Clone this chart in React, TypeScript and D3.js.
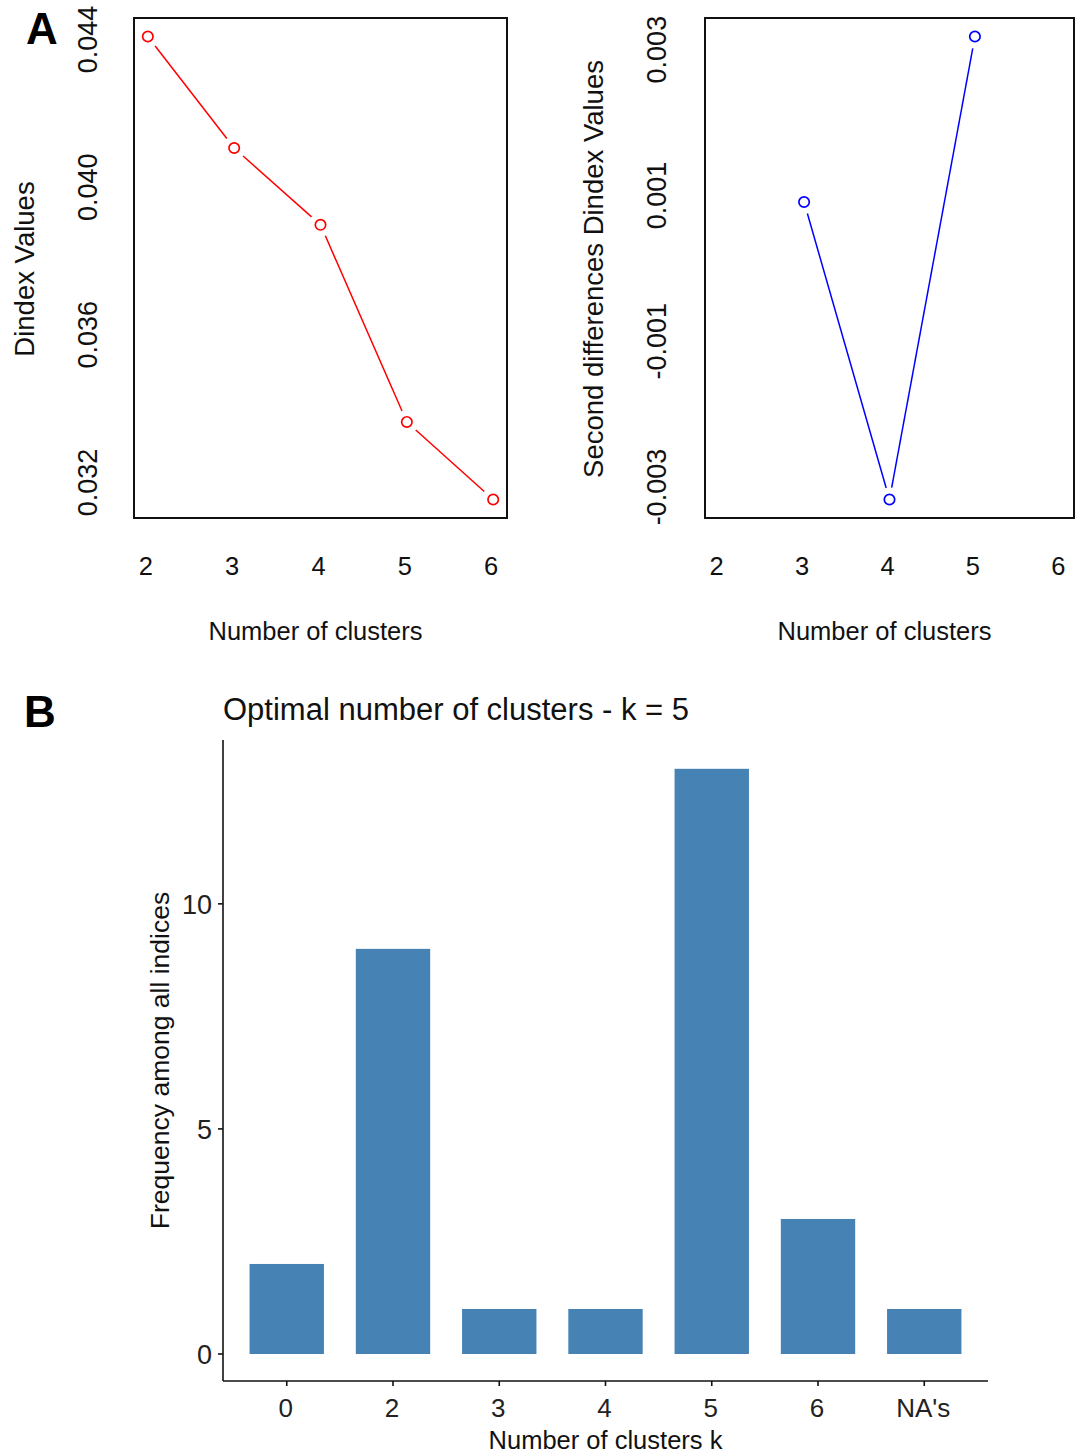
import React from "react";
import * as d3 from "d3";

const clusters = [2, 3, 4, 5, 6];
const dindex = [0.04408, 0.04106, 0.03898, 0.03364, 0.03154];
const secondDiffK = [3, 4, 5];
const secondDiff = [0.00091, -0.00317, 0.00318];
const leftTicks = [0.032, 0.036, 0.04, 0.044];
const rightTicks = [-0.003, -0.001, 0.001, 0.003];

const kCategories = ["0", "2", "3", "4", "5", "6", "NA's"];
const kFrequency = [2, 9, 1, 1, 13, 3, 1];
const freqTicks = [0, 5, 10];

const FONT = "'Liberation Sans', Arial, sans-serif";

function padDomain(vals: number[]): [number, number] {
  const mn = d3.min(vals) as number;
  const mx = d3.max(vals) as number;
  const r = mx - mn;
  return [mn - 0.04 * r, mx + 0.04 * r];
}

function LinePanel(props: {
  left: number; right: number; top: number; bottom: number;
  xs: number[]; ys: number[]; ticks: number[]; color: string;
  yTitle: string; yTitleX: number; yLabX: number; fmt: (v: number) => string;
}) {
  const { left, right, top, bottom, xs, ys, ticks, color, yTitle, yTitleX, yLabX, fmt } = props;
  const x = d3.scaleLinear().domain(padDomain(clusters)).range([left, right]);
  const y = d3.scaleLinear().domain(padDomain(ys)).range([bottom, top]);
  const pts = xs.map((k, i) => [x(k), y(ys[i])]);
  const gap = 12;
  const segs = [] as any[];
  for (let i = 0; i < pts.length - 1; i++) {
    const [x1, y1] = pts[i];
    const [x2, y2] = pts[i + 1];
    const dx = x2 - x1, dy = y2 - y1;
    const len = Math.sqrt(dx * dx + dy * dy);
    const ux = dx / len, uy = dy / len;
    segs.push(
      <line key={"s" + i} x1={x1 + ux * gap} y1={y1 + uy * gap} x2={x2 - ux * gap} y2={y2 - uy * gap}
        stroke={color} strokeWidth={1.5} />
    );
  }
  const midY = (top + bottom) / 2;
  return (
    <g>
      <rect x={left} y={top} width={right - left} height={bottom - top} fill="none" stroke="#111" strokeWidth={2} />
      {segs}
      {pts.map((p, i) => (
        <circle key={"c" + i} cx={p[0]} cy={p[1]} r={5.2} fill="none" stroke={color} strokeWidth={1.7} />
      ))}
      {clusters.map((k) => (
        <text key={"xt" + k} x={x(k) - 2} y={575} textAnchor="middle" fontSize={25.5} fontFamily={FONT} fill="#111">{k}</text>
      ))}
      {ticks.map((t) => (
        <text key={"yt" + t} transform={`translate(${yLabX},${y(t)}) rotate(-90)`} textAnchor="middle" dy="0.35em"
          fontSize={27} fontFamily={FONT} fill="#111">{fmt(t)}</text>
      ))}
      <text x={(left + right) / 2 - 5} y={640} textAnchor="middle" fontSize={25.5} fontFamily={FONT} fill="#111">Number of clusters</text>
      <text transform={`translate(${yTitleX},${midY + 1}) rotate(-90)`} textAnchor="middle" dy="0.35em"
        fontSize={27.5} fontFamily={FONT} fill="#111">{yTitle}</text>
    </g>
  );
}

function BarPanel() {
  const left = 223, right = 988, top = 740, bottom = 1381;
  const x = d3.scaleBand<string>().domain(kCategories).range([left, right]).paddingInner(0.3).paddingOuter(0.25);
  const y = d3.scaleLinear().domain([-0.6, 13.64]).range([bottom, top]);
  return (
    <g>
      {kCategories.map((c, i) => (
        <rect key={c} x={x(c)} y={y(kFrequency[i])} width={x.bandwidth()} height={y(0) - y(kFrequency[i])}
          fill="#4682B4" />
      ))}
      <line x1={left} y1={top} x2={left} y2={bottom} stroke="#111" strokeWidth={1.6} />
      <line x1={left} y1={bottom} x2={right} y2={bottom} stroke="#111" strokeWidth={1.6} />
      {freqTicks.map((t) => (
        <g key={"t" + t}>
          <line x1={left - 5} x2={left} y1={y(t)} y2={y(t)} stroke="#111" strokeWidth={1.6} />
          <text x={left - 11} y={y(t)} dy="0.36em" textAnchor="end" fontSize={27} fontFamily={FONT} fill="#222">{t}</text>
        </g>
      ))}
      {kCategories.map((c) => (
        <g key={"x" + c}>
          <line x1={(x(c) as number) + x.bandwidth() / 2} x2={(x(c) as number) + x.bandwidth() / 2} y1={bottom} y2={bottom + 5}
            stroke="#111" strokeWidth={1.6} />
          <text x={(x(c) as number) + x.bandwidth() / 2 - 1} y={1417} textAnchor="middle" fontSize={26} fontFamily={FONT} fill="#222">{c}</text>
        </g>
      ))}
      <text x={(left + right) / 2} y={1449} textAnchor="middle" fontSize={25.5} fontFamily={FONT} fill="#111">Number of clusters k</text>
      <text transform={`translate(160,${(top + bottom) / 2}) rotate(-90)`} textAnchor="middle" dy="0.35em"
        fontSize={26.5} fontFamily={FONT} fill="#111">Frequency among all indices</text>
      <text x={223} y={720} fontSize={31} fontFamily={FONT} fill="#111">Optimal number of clusters - k = 5</text>
    </g>
  );
}

export default function App() {
  const fmt3 = (v: number) => (v < 0 ? "-" : "") + Math.abs(v).toFixed(3);
  return (
    <svg width={1075} height={1456} style={{ position: "absolute", left: 0, top: 0, background: "#fff" }}>
      <rect width={1075} height={1456} fill="#fff" />
      <LinePanel left={134} right={507} top={18} bottom={518} xs={clusters} ys={dindex} ticks={leftTicks}
        color="#FF0000" yTitle="Dindex Values" yTitleX={24} yLabX={88} fmt={fmt3} />
      <LinePanel left={705} right={1074} top={18} bottom={518} xs={secondDiffK} ys={secondDiff} ticks={rightTicks}
        color="#0000FF" yTitle="Second differences Dindex Values" yTitleX={593} yLabX={657} fmt={fmt3} />
      <BarPanel />
      <text x={26} y={44} fontSize={44} fontWeight="bold" fontFamily={FONT} fill="#000">A</text>
      <text x={24} y={727} fontSize={44} fontWeight="bold" fontFamily={FONT} fill="#000">B</text>
    </svg>
  );
}
